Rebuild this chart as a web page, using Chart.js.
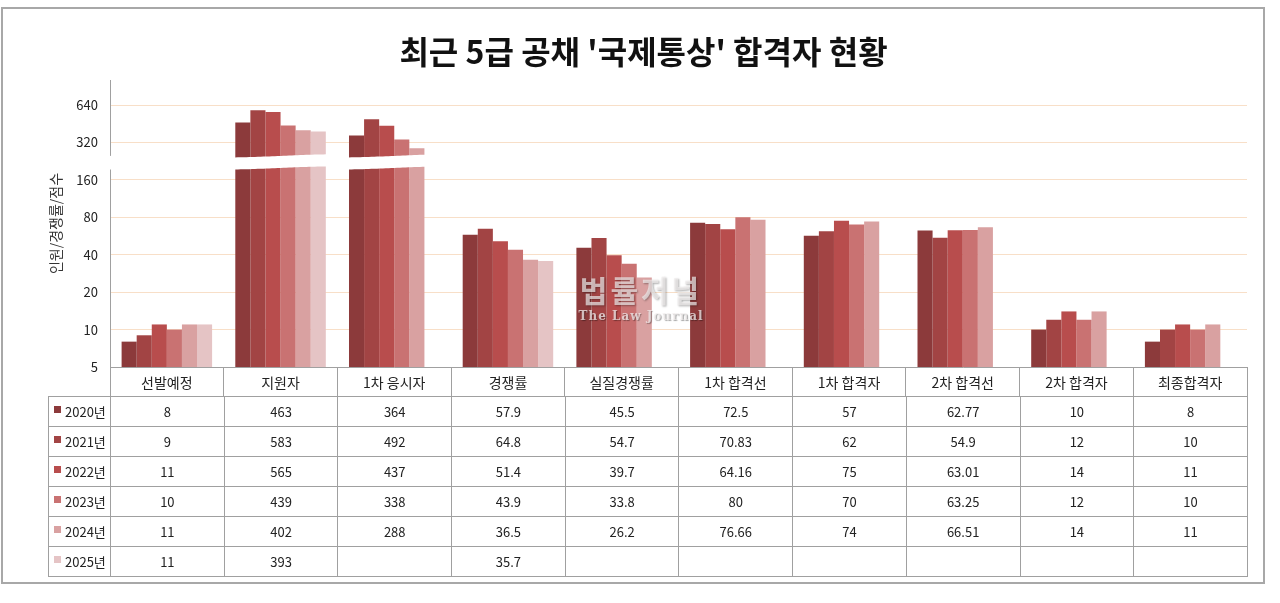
<!DOCTYPE html>
<html>
<head>
<meta charset="utf-8">
<script src="https://cdn.jsdelivr.net/npm/chart.js@4.4.1/dist/chart.umd.min.js"></script>
<style>
html,body{margin:0;padding:0;background:#fff;}
#wrap{position:relative;width:1280px;height:603px;overflow:hidden;font-family:"Noto Sans CJK KR","Noto Sans",sans-serif;}
#frame{position:absolute;left:1px;top:7px;width:1264px;height:577px;box-sizing:border-box;border:2px solid #a8a8a8;pointer-events:none;}
#c{position:absolute;left:0;top:0;}
#tbl{position:absolute;border-collapse:collapse;table-layout:fixed;font-size:13px;color:#222;font-family:"Noto Sans CJK KR","Noto Sans",sans-serif;}
#tbl td{border:1px solid #a0a0a0;height:29px;padding:0;text-align:center;vertical-align:middle;line-height:1;white-space:nowrap;}
#tbl td.lg{text-align:left;padding-left:5px;}
#tbl .sw{display:inline-block;width:7px;height:7px;margin-right:4px;position:relative;top:-4px;}
.wm1{position:absolute;left:560px;top:271px;width:162px;text-align:center;font-size:30px;font-weight:bold;letter-spacing:3px;color:rgba(240,236,236,0.7);text-shadow:1px 1px 2px rgba(0,0,0,0.3);line-height:1.2;pointer-events:none;}
.wm2{position:absolute;left:560px;top:309px;width:162px;text-align:center;font-family:"DejaVu Serif",serif;font-size:12px;font-weight:bold;letter-spacing:1px;color:rgba(242,238,238,0.75);text-shadow:1px 1px 1px rgba(0,0,0,0.35);line-height:1.2;pointer-events:none;}
</style>
</head>
<body>
<div id="wrap">
  <canvas id="c" width="1280" height="603"></canvas>
  <table id="tbl"></table>
  <div class="wm1">법률저널</div>
  <div class="wm2">The Law Journal</div>
  <div id="frame"></div>
</div>
<script>
const categories = ['선발예정','지원자','1차 응시자','경쟁률','실질경쟁률','1차 합격선','1차 합격자','2차 합격선','2차 합격자','최종합격자'];
const years = ['2020년','2021년','2022년','2023년','2024년','2025년'];
const v2020 = [8, 463, 364, 57.9, 45.5, 72.5, 57, 62.77, 10, 8];
const v2021 = [9, 583, 492, 64.8, 54.7, 70.83, 62, 54.9, 12, 10];
const v2022 = [11, 565, 437, 51.4, 39.7, 64.16, 75, 63.01, 14, 11];
const v2023 = [10, 439, 338, 43.9, 33.8, 80, 70, 63.25, 12, 10];
const v2024 = [11, 402, 288, 36.5, 26.2, 76.66, 74, 66.51, 14, 11];
const v2025 = [11, 393, null, 35.7, null, null, null, null, null, null];
const yTicks = [5, 10, 20, 40, 80, 160, 320, 640];
const colors = ['#8C3A3B','#A24444','#B84D4D','#C97272','#D9A1A1','#E5C4C5'];
const seriesList = [v2020, v2021, v2022, v2023, v2024, v2025];

const FONT = '"Noto Sans CJK KR","Noto Sans",sans-serif';
const breakLow = 200, breakHigh = 250;

const breakPlugin = {
  id: 'axisBreak',
  afterDatasetsDraw(chart) {
    const {ctx, scales: {x, y}} = chart;
    const yTop = y.getPixelForValue(breakHigh);
    const yBot = y.getPixelForValue(breakLow);
    const n = categories.length;
    const w = (x.right - x.left) / n;
    const amp = 1.6;
    ctx.save();
    ctx.fillStyle = '#ffffff';
    ctx.fillRect(x.left - 4, yTop, 8, yBot - yTop);
    for (let i = 0; i < n; i++) {
      const x0 = x.left + i * w;
      ctx.beginPath();
      const steps = 40;
      for (let k = 0; k <= steps; k++) {
        const t = k / steps;
        const px = x0 + t * w, py = yTop + amp * Math.cos(Math.PI * t);
        if (k === 0) ctx.moveTo(px, py); else ctx.lineTo(px, py);
      }
      for (let k = steps; k >= 0; k--) {
        const t = k / steps;
        ctx.lineTo(x0 + t * w, yBot + amp * Math.cos(Math.PI * t));
      }
      ctx.closePath();
      ctx.fill();
    }
    ctx.restore();
  }
};

const chart = new Chart(document.getElementById('c'), {
  type: 'bar',
  data: {
    labels: categories,
    datasets: years.map((yr, i) => ({
      label: yr,
      data: seriesList[i],
      backgroundColor: colors[i],
      borderWidth: 0,
      categoryPercentage: 0.796,
      barPercentage: 1.0
    }))
  },
  options: {
    responsive: false,
    animation: false,
    devicePixelRatio: 1,
    layout: { padding: { top: 30, left: 40, right: 33, bottom: 207 } },
    plugins: {
      legend: { display: false },
      tooltip: { enabled: false },
      title: {
        display: true,
        text: "최근 5급 공채 '국제통상' 합격자 현황",
        color: '#111',
        font: { family: FONT, size: 32, weight: 'bold' },
        padding: { top: 3, bottom: 8.6 }
      }
    },
    scales: {
      x: {
        type: 'category',
        grid: { offset: true, drawOnChartArea: false, drawTicks: true, tickLength: 29, color: '#a0a0a0' },
        border: { color: '#a0a0a0' },
        ticks: { padding: -22, autoSkip: false, maxRotation: 0, color: '#222', font: { family: FONT, size: 14 } },
        afterFit: s => { s.height = 29; }
      },
      y: {
        type: 'logarithmic',
        min: 5,
        max: 1020,
        afterBuildTicks: s => { s.ticks = yTicks.map(v => ({ value: v })); },
        grid: { color: '#F8DFC8', drawTicks: false },
        border: { color: '#a0a0a0' },
        ticks: { padding: 12, color: '#222', font: { family: FONT, size: 13 }, callback: v => String(v) },
        title: { display: true, text: '인원/경쟁률/점수', color: '#333', font: { family: FONT, size: 14 }, padding: { top: 7, bottom: 0 } },
        afterFit: s => { s.width = 70; }
      }
    }
  },
  plugins: [breakPlugin]
});

// data table below the axis, aligned to the category scale
(function buildTable() {
  const x = chart.scales.x;
  const tbl = document.getElementById('tbl');
  const left = 48;
  const colW = (x.right - x.left) / categories.length;
  tbl.style.left = left + 'px';
  tbl.style.top = (x.bottom) + 'px';
  tbl.style.width = (x.right - left) + 'px';
  let html = '<colgroup><col style="width:' + (x.left - left) + 'px">';
  for (let i = 0; i < categories.length; i++) html += '<col style="width:' + colW + 'px">';
  html += '</colgroup>';
  years.forEach((yr, r) => {
    html += '<tr><td class="lg"><span class="sw" style="background:' + colors[r] + '"></span>' + yr + '</td>';
    seriesList[r].forEach(v => { html += '<td>' + (v === null ? '' : String(v)) + '</td>'; });
    html += '</tr>';
  });
  tbl.innerHTML = html;
})();
</script>
</body>
</html>
